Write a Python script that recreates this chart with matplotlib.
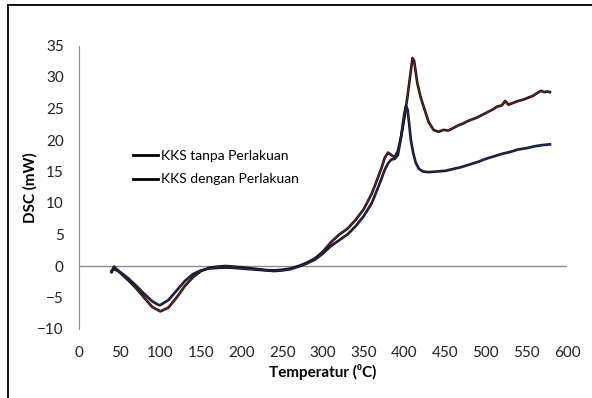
import matplotlib
matplotlib.use("Agg")
import matplotlib.pyplot as plt
import matplotlib.patheffects as pe
from matplotlib.lines import Line2D

plt.rcParams["font.family"] = ["Lato", "DejaVu Sans"]

# KKS tanpa Perlakuan (upper curve after 400 C)
temp_a = [40, 43, 50, 60, 70, 80, 90, 100, 110, 120, 130, 140, 150, 160, 170,
          180, 190, 200, 210, 220, 230, 240, 250, 260, 270, 280, 290, 300, 310,
          320, 330, 340, 350, 360, 366, 372, 376, 380, 384, 388, 392, 396, 400,
          404, 408, 410, 412, 416, 420, 425, 430, 436, 442, 448, 454, 460, 466,
          472, 478, 484, 490, 496, 502, 508, 514, 520, 524, 528, 534, 540, 546,
          552, 558, 564, 568, 572, 576, 579]
dsc_a = [-1.0, -0.1, -1.0, -2.2, -3.5, -5.0, -6.5, -7.2, -6.6, -5.0, -3.2, -1.8,
         -0.8, -0.3, -0.1, 0.0, -0.1, -0.2, -0.35, -0.5, -0.65, -0.7, -0.6, -0.4,
         0.0, 0.5, 1.2, 2.3, 3.8, 5.0, 5.9, 7.3, 9.0, 11.5, 13.5, 15.6, 17.2,
         18.0, 17.6, 17.3, 18.2, 20.5, 23.5, 27.0, 31.0, 33.0, 32.6, 29.0, 26.8,
         24.8, 22.8, 21.6, 21.3, 21.6, 21.5, 21.9, 22.3, 22.6, 23.0, 23.3, 23.6,
         24.0, 24.4, 24.8, 25.3, 25.5, 26.2, 25.6, 25.9, 26.2, 26.4, 26.7, 27.0,
         27.5, 27.8, 27.6, 27.7, 27.6]

# KKS dengan Perlakuan (lower curve after 400 C)
temp_b = [40, 43, 50, 60, 70, 80, 90, 98, 100, 110, 120, 130, 140, 150, 160,
          170, 180, 190, 200, 210, 220, 230, 240, 250, 260, 270, 280, 290, 300,
          310, 320, 330, 340, 350, 360, 366, 372, 376, 380, 384, 388, 392, 396,
          400, 402, 404, 406, 408, 411, 414, 418, 423, 430, 440, 450, 460, 470,
          480, 490, 500, 510, 520, 530, 540, 550, 560, 570, 579]
dsc_b = [-0.8, -0.5, -0.9, -1.9, -3.1, -4.4, -5.6, -6.2, -6.2, -5.4, -3.9, -2.4,
         -1.3, -0.7, -0.4, -0.3, -0.25, -0.3, -0.4, -0.5, -0.6, -0.7, -0.8, -0.7,
         -0.5, -0.1, 0.4, 1.0, 2.0, 3.2, 4.1, 5.0, 6.3, 7.9, 10.0, 11.9, 13.9,
         15.3, 16.3, 16.9, 17.0, 17.6, 20.5, 24.2, 25.4, 24.8, 22.5, 20.0, 17.9,
         16.4, 15.4, 15.0, 14.9, 15.0, 15.1, 15.4, 15.7, 16.1, 16.5, 17.0, 17.4,
         17.8, 18.1, 18.5, 18.7, 19.0, 19.2, 19.3]

labels = ["KKS tanpa Perlakuan", "KKS dengan Perlakuan"]

fig = plt.figure(figsize=(5.92, 3.98), dpi=100)
ax = fig.add_axes([79 / 592, 1 - 329 / 398, 488 / 592, (329 - 45.5) / 398])

ax.axhline(0, color="#8c8c8c", lw=1.0, zorder=1)

ax.plot(temp_b, dsc_b, color="#27306e", lw=0.7, zorder=3,
        path_effects=[pe.Stroke(linewidth=1.9, foreground="#101018"), pe.Normal()])
ax.plot(temp_a, dsc_a, color="#7a2424", lw=0.7, zorder=2,
        path_effects=[pe.Stroke(linewidth=1.9, foreground="#181010"), pe.Normal()])

ax.set_xlim(0, 600)
ax.set_ylim(-10, 35)
ax.set_xticks(range(0, 601, 50))
ax.set_yticks(range(-10, 36, 5))
ax.tick_params(length=0, labelsize=11, colors="#222222", pad=11)
ax.tick_params(axis="x", pad=12)
for side in ["top", "right", "bottom"]:
    ax.spines[side].set_visible(False)
ax.spines["left"].set_color("#8c8c8c")

ax.set_xlabel("Temperatur (⁰C)", fontsize=11, fontweight="bold", labelpad=3)
ax.set_ylabel("DSC (mW)", fontsize=11, fontweight="bold", labelpad=0)

handles = [Line2D([], [], color="black", lw=2) for _ in labels]
fig.legend(handles, labels, loc="center left",
           bbox_to_anchor=(133 / 592, 1 - 167.5 / 398), frameon=False,
           fontsize=10, handlelength=1.8, handletextpad=0.2,
           labelspacing=0.85, borderpad=0, borderaxespad=0)

# outer frame (top and left edges visible)
fig.add_artist(Line2D([8 / 592, 1], [1 - 5 / 398, 1 - 5 / 398],
                      transform=fig.transFigure, color="black", lw=1.3))
fig.add_artist(Line2D([8 / 592, 8 / 592], [0, 1 - 5 / 398],
                      transform=fig.transFigure, color="black", lw=1.3))

fig.savefig("out.png", dpi=100)
